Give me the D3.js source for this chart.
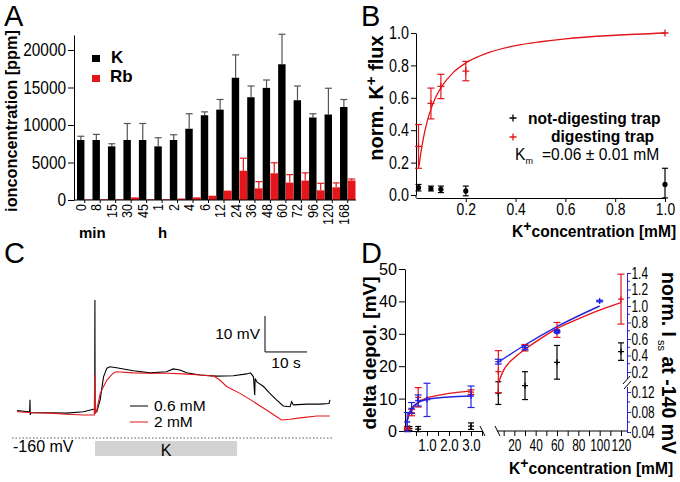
<!DOCTYPE html>
<html><head><meta charset="utf-8">
<script src="https://cdn.jsdelivr.net/npm/d3@7"></script>
<style>body{margin:0;background:#fff} svg{display:block}</style>
</head><body><svg id="c" width="680" height="482"></svg>
<script>
// ---------------- DATA ----------------
// Panel A
const groups = ["0","8","15","30","45","1","2","4","6","12","24","36","48","60","72","96","120","168"];
const kValues  = [8000,8000,7150,8000,8000,7150,8000,9500,11300,12050,16300,13700,14950,18100,13300,11000,11400,12400];
const kErrors  = [500,750,350,2200,2200,1150,700,2000,450,1350,3050,1500,1050,4000,1900,500,3500,1000];
const rbValues = [60,100,100,350,100,100,200,350,570,1250,3900,1550,3560,2320,2590,1290,1690,2600];
const rbErrors = [0,0,0,0,0,0,0,0,0,0,1670,900,1400,1070,1030,940,590,200];
const yTicksA = [0,5000,10000,15000,20000];

// Panel B
const fluxConc = [0.01,0.06,0.1,0.2,1.0];
const digesting = [0.30,0.565,0.67,0.765,1.0];
const digestingErr = [0.135,0.095,0.075,0.06,0];
const notDigesting = [0.045,0.04,0.035,0.025,0.065];
const notDigestingErr = [0.02,0.015,0.02,0.03,0.1];
const fitConc = [0.012,0.02,0.03,0.045,0.06,0.08,0.1,0.15,0.2,0.3,0.4,0.5,0.6,0.8,1.0];
const fitFlux = [0.177,0.265,0.353,0.454,0.53,0.606,0.662,0.757,0.815,0.883,0.922,0.946,0.964,0.986,1.0];
const yTicksB = [0,0.2,0.4,0.6,0.8,1.0];
const xTicksB = [0.2,0.4,0.6,0.8,1.0];

// Panel C  [time s, membrane potential mV]
const trace06 = [[0,-152.4],[2.7,-152.7],[3.0,-152.8],[3.1,-149.4],[3.15,-153.6],[3.3,-152.9],[3.5,-153.0],[7.9,-153.0],[11.8,-153.1],[15.8,-152.7],[18.2,-152.0],[18.5,-152.0],[18.55,-121.7],[18.6,-152.8],[19.0,-152.7],[19.8,-149.4],[20.6,-143.0],[21.4,-140.6],[22.1,-140.2],[23.7,-140.5],[27.7,-141.3],[31.7,-141.9],[35.6,-141.6],[37.2,-140.8],[38.8,-141.1],[40.4,-141.9],[43.6,-142.5],[47.5,-142.8],[51.5,-142.7],[54.7,-142.2],[55.6,-141.9],[56.3,-143.0],[56.6,-148.1],[56.7,-143.5],[57.1,-144.4],[58.7,-145.7],[60.2,-147.6],[61.8,-149.4],[63.4,-151.1],[65.0,-151.3],[65.4,-149.9],[65.8,-150.8],[69.0,-150.6],[72.1,-150.6],[74.3,-150.4],[74.5,-149.4]];
const trace2 = [[0,-152.7],[3.9,-153.0],[7.9,-153.1],[11.8,-153.4],[15.8,-153.6],[18.4,-153.6],[18.5,-142.5],[18.6,-153.3],[19.0,-152.2],[19.8,-147.6],[21.4,-143.9],[22.9,-142.0],[23.7,-141.6],[27.7,-141.9],[31.7,-142.0],[35.6,-142.0],[39.6,-142.2],[43.6,-142.5],[46.8,-142.8],[48.3,-143.9],[49.9,-145.7],[53.1,-147.6],[56.3,-149.9],[59.4,-152.2],[61.8,-154.1],[63.0,-155.0],[65.0,-154.8],[67.4,-154.4],[71.4,-153.9],[74.5,-153.9]];
const kApplication = [18.57, 52.4];
const holdingPotential = -160;

// Panel D
const redConc = [0.1,0.3,0.6,3,5,30,60,120];
const redDepol = [0.8,5.7,10.4,12.0,18.3,25.7,31.2,40.7];
const redErr = [0.4,1,3,0.7,6.5,1,2.3,7.7];
const blackConc = [0.1,0.2,0.6,3,5,30,60,120];
const blackDepol = [0.8,0.8,0.6,1.5,11.7,14,21.2,24.5];
const blackErr = [0.6,0.6,0.8,1,3.5,4.3,5.2,2.7];
const blueConc = [0.1,0.3,0.6,1,3,5,30,60,100];
const blueIss = [0.06,0.087,0.103,0.105,0.112,0.325,0.495,0.69,1.06];
const blueHigh = [0.079,0.099,0.114,0.155,0.144,0.354,0.52,0.70,1.07];
const blueLow = [0.0406,0.077,0.092,0.071,0.089,0.297,0.47,0.68,1.05];
const redFitLowConc = [0.1,0.2,0.3,0.6,1.0,1.5,2.0,2.5,3.0];
const redFitLow = [3.4,5.4,6.6,8.9,10.2,11.0,11.6,12.0,12.3];
const redFitHighConc = [5,10,20,30,45,60,80,100,120];
const redFitHigh = [14.8,18.8,22.6,25.2,28.6,31.6,34.6,37.3,39.6];
const blueFitLowConc = [0.1,0.2,0.3,0.6,1.0,2.0,3.0];
const blueFitLow = [0.061,0.078,0.087,0.099,0.105,0.110,0.112];
const blueFitHighConc = [5,30,60,100];
const blueFitHigh = [0.32,0.527,0.75,1.0];
const yTicksDL = [0,10,20,30,40,50];
const yTicksDR = [0.04,0.08,0.12,0.2,0.4,0.6,0.8,1.0,1.2,1.4];
const yMinorDR = [0.06,0.10,0.3,0.5,0.7,0.9,1.1,1.3];

// ---------------- DRAWING ----------------
const svg = d3.select("#c");
const FS = "'Liberation Sans',Arial,Helvetica,sans-serif";
const RED = "#e3161b", BLUE = "#2323e0";

// horizontal condensing of a text (narrow typeface look), about its own x position
function narrow(sel, f) {
  sel.each(function () {
    const t = d3.select(this);
    const x = +(t.attr("x") || 0);
    const prev = t.attr("transform") || "";
    t.attr("transform", `${prev} translate(${x},0) scale(${f},1) translate(${-x},0)`);
  });
}
function txt(g, x, y, s, o = {}) {
  const t = g.append("text").attr("x", x).attr("y", y).attr("font-family", FS)
    .attr("font-size", o.fs || 15).attr("font-weight", o.fw || "normal")
    .attr("text-anchor", o.anchor || "start").attr("fill", o.fill || "#000").text(s);
  if (o.rot !== undefined) t.attr("transform", `rotate(${o.rot},${x},${y})`);
  if (o.narrow) narrow(t, o.narrow);
  return t;
}
function styleAxis(g, fs, f) {
  g.attr("font-family", FS).attr("font-size", fs);
  g.selectAll("path,line").attr("stroke", "#000");
  g.selectAll("text").attr("fill", "#000");
  if (f < 1) narrow(g.selectAll("text"), f);
}
function errBar(g, x, y1, y2, color, cap, capBottom = true) {
  g.append("line").attr("x1", x).attr("x2", x).attr("y1", y1).attr("y2", y2).attr("stroke", color).attr("stroke-width", 1.2);
  if (cap) {
    g.append("line").attr("x1", x - cap).attr("x2", x + cap).attr("y1", y1).attr("y2", y1).attr("stroke", color).attr("stroke-width", 1.2);
    if (capBottom) g.append("line").attr("x1", x - cap).attr("x2", x + cap).attr("y1", y2).attr("y2", y2).attr("stroke", color).attr("stroke-width", 1.2);
  }
}
function plus(g, x, y, color, s = 3) {
  g.append("path").attr("d", `M${x - s},${y}H${x + s}M${x},${y - s}V${y + s}`).attr("stroke", color).attr("stroke-width", 1.3);
}

// Panel letters
txt(svg, 4, 26, "A", {fs: 29});
txt(svg, 361, 26, "B", {fs: 29});
txt(svg, 4, 263, "C", {fs: 29});
txt(svg, 361, 263, "D", {fs: 29});

// ---------- Panel A ----------
const gA = svg.append("g");
const idx = d3.range(groups.length);
const xA = d3.scaleBand().domain(idx).range([77, 355.5]).padding(0);
const yA = d3.scaleLinear().domain([0, 22000]).range([200, 35]);
const bw = xA.bandwidth() / 2;

idx.forEach(i => {
  errBar(gA, xA(i) + bw / 2, yA(kValues[i] + kErrors[i]), yA(kValues[i]), "#555", 3.5, false);
  if (rbErrors[i] > 0) errBar(gA, xA(i) + bw * 1.5, yA(rbValues[i] + rbErrors[i]), yA(rbValues[i]), RED, 3.5, false);
});
gA.selectAll("rect.k").data(idx).join("rect").attr("class", "k")
  .attr("x", i => xA(i)).attr("width", bw - 0.3)
  .attr("y", i => yA(kValues[i])).attr("height", i => yA(0) - yA(kValues[i])).attr("fill", "#000");
gA.selectAll("rect.rb").data(idx).join("rect").attr("class", "rb")
  .attr("x", i => xA(i) + bw).attr("width", bw)
  .attr("y", i => yA(rbValues[i])).attr("height", i => yA(0) - yA(rbValues[i])).attr("fill", RED);

const axA = gA.append("g").attr("transform", "translate(74,0)")
  .call(d3.axisLeft(yA).tickValues(yTicksA).tickFormat(d3.format("d")).tickSize(6).tickSizeOuter(0).tickPadding(2));
styleAxis(axA, 17.5, 0.88);
gA.append("line").attr("x1", 74).attr("x2", 356).attr("y1", 200).attr("y2", 200).attr("stroke", "#000");
idx.forEach(i => {
  gA.append("line").attr("x1", xA(i) + bw).attr("x2", xA(i) + bw).attr("y1", 200).attr("y2", 203).attr("stroke", "#000");
  const lx = xA(i) + bw / 2 + 5;
  txt(gA, lx, 204, groups[i], {fs: 15.5, anchor: "end", rot: -90, narrow: 0.81});
});
txt(gA, 79, 238, "min", {fs: 15, fw: "bold"});
txt(gA, 158, 238, "h", {fs: 15, fw: "bold"});
txt(gA, 17, 121, "ionconcentration [ppm]", {fs: 16.3, fw: "bold", anchor: "middle", rot: -90});
gA.append("rect").attr("x", 92).attr("y", 55).attr("width", 8).attr("height", 7).attr("fill", "#000");
txt(gA, 111, 63, "K", {fs: 17, fw: "bold"});
gA.append("rect").attr("x", 92).attr("y", 75).attr("width", 8).attr("height", 7).attr("fill", RED);
txt(gA, 110, 82, "Rb", {fs: 17, fw: "bold"});

// ---------- Panel B ----------
const gB = svg.append("g");
const xB = d3.scaleLinear().domain([0, 1]).range([416, 665]);
const yB = d3.scaleLinear().domain([0, 1]).range([195, 33]);
const axBy = gB.append("g").attr("transform", "translate(416,0)")
  .call(d3.axisLeft(yB).tickValues(yTicksB).tickFormat(d3.format(".1f")).tickSize(5).tickSizeOuter(0).tickPadding(2));
styleAxis(axBy, 17.5, 0.82);
gB.append("line").attr("x1", 416).attr("x2", 416).attr("y1", 195).attr("y2", 198).attr("stroke", "#000");
const axBx = gB.append("g").attr("transform", "translate(0,198)")
  .call(d3.axisBottom(xB).tickValues(xTicksB).tickFormat(d3.format(".1f")).tickSize(4).tickSizeOuter(0).tickPadding(1));
styleAxis(axBx, 17, 0.82);
// fit curve
gB.append("path").datum(d3.zip(fitConc, fitFlux)).attr("fill", "none").attr("stroke", RED).attr("stroke-width", 1.3)
  .attr("d", d3.line().x(d => xB(d[0])).y(d => yB(d[1])).curve(d3.curveMonotoneX));
fluxConc.forEach((c, i) => {
  const x = xB(c);
  if (digestingErr[i] > 0) errBar(gB, x, yB(digesting[i] + digestingErr[i]), yB(digesting[i] - digestingErr[i]), RED, 3.5);
  plus(gB, x, yB(digesting[i]), RED, 3.5);
  const lo = Math.max(notDigesting[i] - notDigestingErr[i], -0.018);
  errBar(gB, x, yB(notDigesting[i] + notDigestingErr[i]), yB(lo), "#000", 3);
  gB.append("circle").attr("cx", x).attr("cy", yB(notDigesting[i])).attr("r", 2.6).attr("fill", "#000");
});
plus(gB, 513, 118, "#000", 3.5);
txt(gB, 528, 123.5, "not-digesting trap", {fs: 15.6, fw: "bold"});
plus(gB, 513, 137, RED, 3.5);
txt(gB, 551, 142, "digesting trap", {fs: 15.6, fw: "bold"});
const km = txt(gB, 515, 160, "", {fs: 15.6});
km.append("tspan").text("K");
km.append("tspan").attr("font-size", 9).attr("dy", 4).text("m");
km.append("tspan").attr("dy", -4).attr("x", 542).text("=0.06 ± 0.01 mM");
const ylB = txt(gB, 383, 98, "", {fs: 20, fw: "bold", anchor: "middle", rot: -90});
ylB.append("tspan").text("norm. K");
ylB.append("tspan").attr("dy", -7).attr("font-size", 15).text("+");
ylB.append("tspan").attr("dy", 7).text(" flux");
function kconc(g, x, y) {
  const t = txt(g, x, y, "", {fs: 15.6, fw: "bold"});
  t.append("tspan").text("K");
  t.append("tspan").attr("dy", -6).attr("font-size", 14).text("+");
  t.append("tspan").attr("dy", 6).text("concentration [mM]");
  return t;
}
kconc(gB, 512, 237);

// ---------- Panel C ----------
const gC = svg.append("g");
const xC = d3.scaleLinear().domain([0, 75]).range([17, 332]);
const yC = d3.scaleLinear().domain([-160, -120]).range([438, 294]);
const lineC = d3.line().x(d => xC(d[0])).y(d => yC(d[1]));
gC.append("path").datum(trace06).attr("fill", "none").attr("stroke", "#000").attr("stroke-width", 1.1).attr("d", lineC);
gC.append("path").datum(trace2).attr("fill", "none").attr("stroke", RED).attr("stroke-width", 1.1).attr("d", lineC);
gC.append("line").attr("x1", xC(-1.2)).attr("x2", xC(75)).attr("y1", yC(holdingPotential)).attr("y2", yC(holdingPotential))
  .attr("stroke", "#555").attr("stroke-dasharray", "1.5,2");
txt(gC, 13, 452, "-160 mV", {fs: 16});
gC.append("rect").attr("x", xC(kApplication[0])).attr("width", xC(kApplication[1]) - xC(kApplication[0]))
  .attr("y", yC(holdingPotential) + 3).attr("height", 15).attr("fill", "#d3d3d3");
txt(gC, (xC(kApplication[0]) + xC(kApplication[1])) / 2, 456, "K", {fs: 16, anchor: "middle"});
// scale bar 10 mV / 10 s
const sbT = 59.05, sbV = -136.1;
gC.append("path").attr("d", `M${xC(sbT)},${yC(sbV + 10)}V${yC(sbV)}H${xC(sbT + 10)}`).attr("fill", "none").attr("stroke", "#000");
txt(gC, xC(sbT) - 5, 339, "10 mV", {fs: 15.5, anchor: "end"});
txt(gC, xC(sbT + 5), 368, "10 s", {fs: 15.5, anchor: "middle"});
// legend
gC.append("line").attr("x1", 130).attr("x2", 148).attr("y1", 406).attr("y2", 406).attr("stroke", "#000");
txt(gC, 154, 411, "0.6 mM", {fs: 15.5});
gC.append("line").attr("x1", 130).attr("x2", 148).attr("y1", 422).attr("y2", 422).attr("stroke", RED);
txt(gC, 154, 427, "2 mM", {fs: 15.5});

// ---------- Panel D ----------
const gD = svg.append("g");
const xDL = d3.scaleLinear().domain([0, 3.5]).range([405, 482]);
const xDH = d3.scaleLinear().domain([0, 120]).range([493, 621]);
const yDL = d3.scaleLinear().domain([0, 50]).range([431, 269]);
const yDR = d3.scaleLinear().domain([0.04, 0.12, 0.2, 1.4]).range([432, 392, 372, 273]);
const xD = c => c <= 3.5 ? xDL(c) : xDH(c);

const axDL = gD.append("g").attr("transform", "translate(405,0)")
  .call(d3.axisLeft(yDL).tickValues(yTicksDL).tickSize(6).tickSizeOuter(0).tickPadding(2));
styleAxis(axDL, 17, 0.95);
const axDx1 = gD.append("g").attr("transform", "translate(0,431)")
  .call(d3.axisBottom(xDL).tickValues([0.5, 1, 1.5, 2, 2.5, 3, 3.5]).tickFormat(d => [1, 2, 3].includes(d) ? d3.format(".1f")(d) : "").tickSize(5).tickSizeOuter(0).tickPadding(3));
styleAxis(axDx1, 17, 0.78);
const axDx2 = gD.append("g").attr("transform", "translate(0,431)")
  .call(d3.axisBottom(xDH).tickValues(d3.range(10, 121, 10)).tickFormat(d => d % 20 === 0 ? d : "").tickSize(5).tickSizeOuter(0).tickPadding(3));
styleAxis(axDx2, 17, 0.7);
axDx2.select(".domain").remove();
gD.append("line").attr("x1", 497).attr("x2", 627).attr("y1", 431).attr("y2", 431).attr("stroke", "#000");
gD.append("line").attr("x1", 480).attr("x2", 485).attr("y1", 426).attr("y2", 436).attr("stroke", "#000");
gD.append("line").attr("x1", 495).attr("x2", 500).attr("y1", 426).attr("y2", 436).attr("stroke", "#000");

const axDR = gD.append("g").attr("transform", "translate(627,0)")
  .call(d3.axisRight(yDR).tickValues(yTicksDR).tickFormat(d => d < 0.15 ? d3.format(".2f")(d) : d3.format(".1f")(d)).tickSize(4).tickSizeOuter(0).tickPadding(0.5));
styleAxis(axDR, 16.5, 0.72);
axDR.selectAll("path,line").attr("stroke", BLUE);
yMinorDR.forEach(v => gD.append("line").attr("x1", 627).attr("x2", 630).attr("y1", yDR(v)).attr("y2", yDR(v)).attr("stroke", BLUE));
gD.append("rect").attr("x", 621).attr("y", 379).attr("width", 9).attr("height", 8).attr("fill", "#fff");
gD.append("line").attr("x1", 623).attr("x2", 630).attr("y1", 384).attr("y2", 376).attr("stroke", "#000");
gD.append("line").attr("x1", 624).attr("x2", 631).attr("y1", 389).attr("y2", 381).attr("stroke", "#000");

// fits
const lineDL = d3.line().curve(d3.curveMonotoneX);
gD.append("path").attr("fill", "none").attr("stroke", RED).attr("stroke-width", 1.4)
  .attr("d", lineDL(redFitLowConc.map((c, i) => [xD(c), yDL(redFitLow[i])])));
gD.append("path").attr("fill", "none").attr("stroke", RED).attr("stroke-width", 1.4)
  .attr("d", lineDL(redFitHighConc.map((c, i) => [xD(c), yDL(redFitHigh[i])])));
gD.append("path").attr("fill", "none").attr("stroke", BLUE).attr("stroke-width", 1.4)
  .attr("d", lineDL(blueFitLowConc.map((c, i) => [xD(c), yDR(blueFitLow[i])])));
gD.append("path").attr("fill", "none").attr("stroke", BLUE).attr("stroke-width", 1.4)
  .attr("d", lineDL(blueFitHighConc.map((c, i) => [xD(c), yDR(blueFitHigh[i])])));
// points
blackConc.forEach((c, i) => {
  const x = xD(c);
  errBar(gD, x, yDL(blackDepol[i] + blackErr[i]), yDL(blackDepol[i] - blackErr[i]), "#000", 3);
  plus(gD, x, yDL(blackDepol[i]), "#000", 3);
});
redConc.forEach((c, i) => {
  const x = xD(c);
  errBar(gD, x, yDL(redDepol[i] + redErr[i]), yDL(redDepol[i] - redErr[i]), RED, 3.5);
  plus(gD, x, yDL(redDepol[i]), RED, 3);
});
blueConc.forEach((c, i) => {
  const x = xD(c);
  errBar(gD, x, yDR(blueHigh[i]), yDR(blueLow[i]), BLUE, 3.5);
  plus(gD, x, yDR(blueIss[i]), BLUE, 3);
});
gD.append("rect").attr("x", xD(60) - 2.5).attr("y", yDR(blueIss[7]) - 2.5).attr("width", 5).attr("height", 5).attr("fill", BLUE);

txt(gD, 376, 353, "delta depol. [mV]", {fs: 19, fw: "bold", anchor: "middle", rot: -90});
const yrD = txt(gD, 662, 272, "", {fs: 19.5, fw: "bold", rot: 90});
yrD.append("tspan").text("norm. I");
yrD.append("tspan").attr("font-size", 11).attr("font-weight", "normal").attr("dy", 4).text(" ss");
yrD.append("tspan").attr("dy", -4).text(" at -140 mV");
kconc(gD, 509, 474);
</script>
</body></html>
